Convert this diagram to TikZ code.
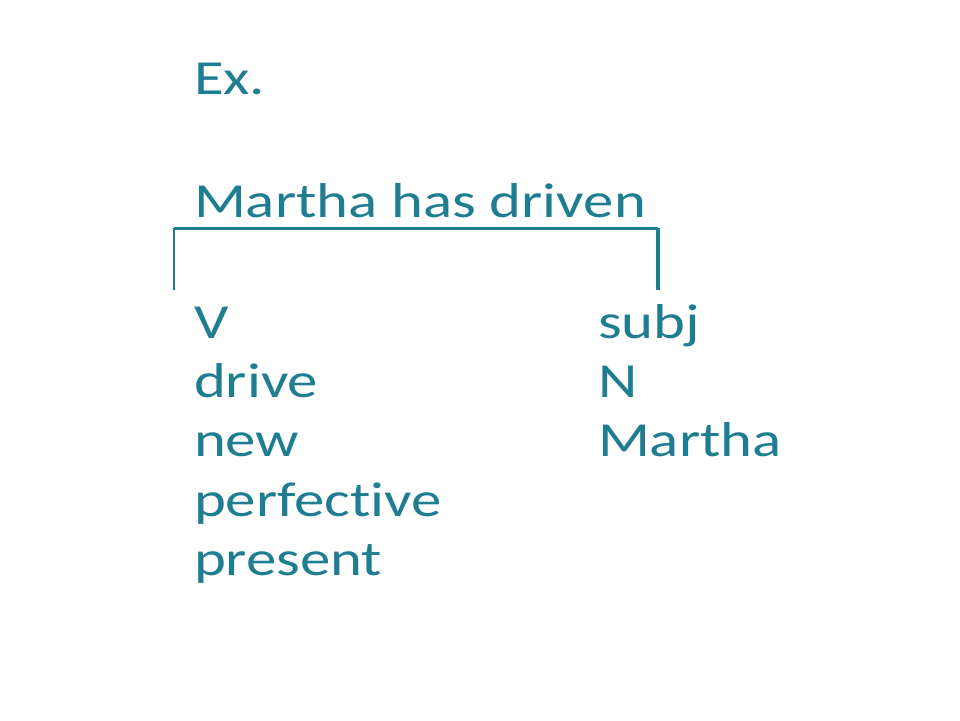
\documentclass[tikz,border=0pt]{standalone}
\usepackage{fontspec}
\newfontfamily\slidefont[FakeStretch=1.24,Ligatures={NoCommon}]{Carlito}
\definecolor{teal1}{RGB}{31,125,146}
\begin{document}
\begin{tikzpicture}[x=1pt,y=-1pt,
  txt/.style={anchor=base west,inner sep=0pt,outer sep=0pt,text=teal1,font=\slidefont\fontsize{49}{60}\selectfont},
  brk/.style={draw=teal1,line width=3pt}]
\useasboundingbox (0,0) rectangle (960,720);
\node[txt] (ex) at (194,94) {Ex.};
\node[txt] (sent) at (194,217) {Martha has driven};
\coordinate (bl) at (174,290);
\coordinate (tl) at (174,228);
\coordinate (tr) at (658,228);
\coordinate (br) at (658,290);
\draw[brk,line width=2.5pt] (bl) -- (tl);
\draw[brk] (tl) -- (tr);
\draw[brk,line width=4pt] (tr) -- (br);
\node[txt] (v) at (194,338) {V};
\node[txt] (drive) at (194,397) {drive};
\node[txt] (new) at (194,456) {new};
\node[txt] (perf) at (194,516) {perfective};
\node[txt] (pres) at (194,575) {present};
\node[txt] (subj) at (598,338) {subj};
\node[txt] (n) at (598,397) {N};
\node[txt] (mar) at (598,456) {Martha};
\end{tikzpicture}
\end{document}
